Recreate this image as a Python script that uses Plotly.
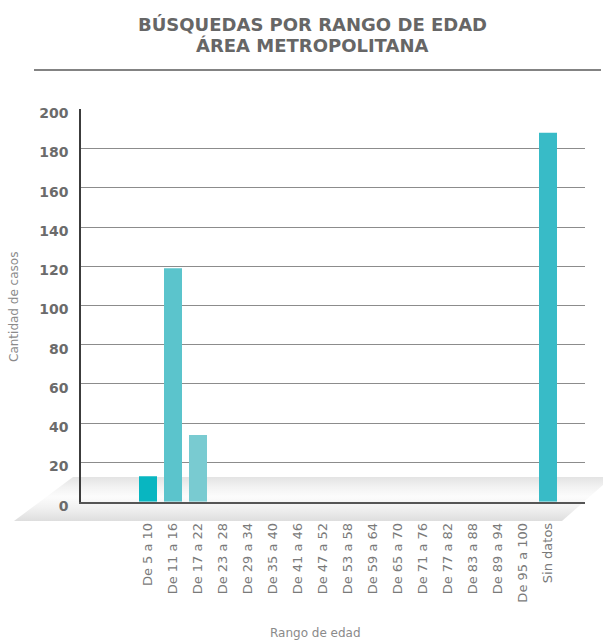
import plotly.graph_objects as go

# ---------------- data ----------------
categories = ["De 5 a 10", "De 11 a 16", "De 17 a 22", "De 23 a 28", "De 29 a 34",
              "De 35 a 40", "De 41 a 46", "De 47 a 52", "De 53 a 58", "De 59 a 64",
              "De 65 a 70", "De 71 a 76", "De 77 a 82", "De 83 a 88", "De 89 a 94",
              "De 95 a 100", "Sin datos"]
values = [13, 119, 34, 0, 0, 0, 0, 0, 0, 0, 0, 0, 0, 0, 0, 0, 188]
bar_colors = ["#08b6c1", "#5bc4cc", "#79cbd1", "#5bc4cc", "#5bc4cc", "#5bc4cc",
              "#5bc4cc", "#5bc4cc", "#5bc4cc", "#5bc4cc", "#5bc4cc", "#333333",
              "#333333", "#333333", "#333333", "#333333", "#38bbc7"]
y_ticks = [0, 20, 40, 60, 80, 100, 120, 140, 160, 180, 200]

title_line1 = "BÚSQUEDAS POR RANGO DE EDAD"
title_line2 = "ÁREA METROPOLITANA"
y_title = "Cantidad de casos"
x_title = "Rango de edad"

W, H = 603, 643

# decorative perspective "floor" under the baseline (page pixels, y from bottom)
floor_x = [73, 612, 562, 14, 73]
floor_y = [H - 477, H - 477, H - 521, H - 521, H - 477]

fig = go.Figure()

fig.add_trace(go.Scatter(
    x=floor_x, y=floor_y, mode="lines", line=dict(width=0),
    fill="toself",
    fillgradient=dict(type="vertical",
                      colorscale=[[0, "#dedede"], [0.3, "#f1f1f1"], [0.55, "#fcfcfc"],
                                  [0.78, "#f2f2f2"], [1, "#e3e3e3"]]),
    hoverinfo="skip", showlegend=False, xaxis="x", yaxis="y"))

fig.add_trace(go.Bar(
    x=categories, y=values, marker=dict(color=bar_colors, line=dict(width=0)),
    width=0.72, showlegend=False, xaxis="x2", yaxis="y2"))

x0px, x1px = 81, 585
ytop, ybot = 109.3, 501.7

fig.update_layout(
    width=W, height=H, autosize=False,
    margin=dict(l=0, r=0, t=0, b=0, autoexpand=False),
    paper_bgcolor="white", plot_bgcolor="rgba(0,0,0,0)",
    showlegend=False,
    xaxis=dict(domain=[0, 1], range=[0, W], visible=False, fixedrange=True),
    yaxis=dict(domain=[0, 1], range=[0, H], visible=False, fixedrange=True),
    xaxis2=dict(domain=[x0px / W, x1px / W], anchor="y2",
                range=[(x0px - 148) / 25, (x1px - 148) / 25],
                type="category", showgrid=False,
                showline=True, linecolor="#555555", linewidth=2,
                tickangle=-90, ticks="outside", ticklen=0, tickcolor="rgba(0,0,0,0)",
                ticklabelstandoff=14,
                tickfont=dict(family="DejaVu Sans", size=13, color="#7a7a7a")),
    yaxis2=dict(domain=[(H - ybot) / H, (H - ytop) / H], anchor="x2",
                range=[0, 200], tickvals=y_ticks,
                showgrid=True, gridcolor="#8c8c8c", gridwidth=1,
                zeroline=False,
                showline=True, linecolor="#3c3c3c", linewidth=1.5,
                ticks="outside", ticklen=0, tickcolor="rgba(0,0,0,0)",
                ticklabelstandoff=8, ticklabelshift=4,
                tickfont=dict(family="DejaVu Sans", size=14, color="#6b6b6b", weight="bold")),
    annotations=[
        dict(text=title_line1, x=312 / W, y=1 - 24 / H, xref="paper", yref="paper",
             showarrow=False, xanchor="center", yanchor="middle",
             font=dict(family="DejaVu Sans", size=18, color="#666666", weight="bold")),
        dict(text=title_line2, x=312 / W, y=1 - 46 / H, xref="paper", yref="paper",
             showarrow=False, xanchor="center", yanchor="middle",
             font=dict(family="DejaVu Sans", size=18, color="#666666", weight="bold")),
        dict(text=y_title, x=14 / W, y=1 - 307 / H, xref="paper", yref="paper",
             showarrow=False, xanchor="center", yanchor="middle", textangle=-90,
             font=dict(family="DejaVu Sans", size=12, color="#8a8a8a")),
        dict(text=x_title, x=316 / W, y=1 - 633 / H, xref="paper", yref="paper",
             showarrow=False, xanchor="center", yanchor="middle",
             font=dict(family="DejaVu Sans", size=12, color="#8a8a8a")),
    ],
    shapes=[
        dict(type="line", xref="paper", yref="paper",
             x0=34 / W, x1=601 / W, y0=1 - 70 / H, y1=1 - 70 / H,
             line=dict(color="#5a5a5a", width=1.5)),
    ],
)

fig.write_html("out.html")
